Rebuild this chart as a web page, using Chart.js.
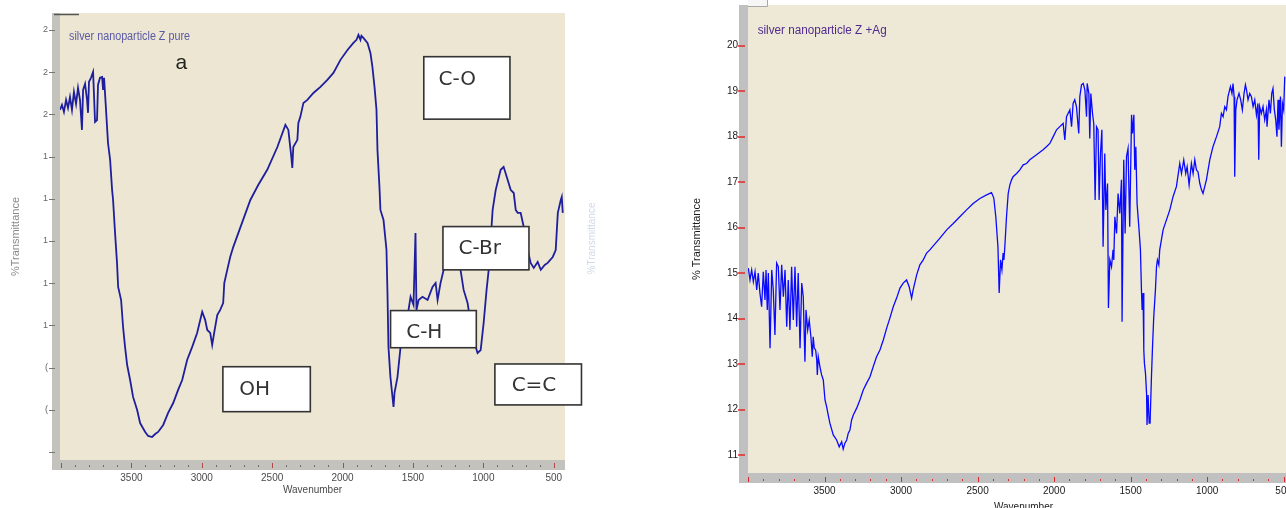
<!DOCTYPE html>
<html>
<head>
<meta charset="utf-8">
<script src="https://cdn.jsdelivr.net/npm/chart.js@4.4.1/dist/chart.umd.min.js"></script>
<style>
html,body{margin:0;padding:0;width:1286px;height:508px;overflow:hidden;background:#ffffff;position:relative}
#wa{position:absolute;left:0;top:0;width:600px;height:508px}
#wb{position:absolute;left:680px;top:0;width:640px;height:530px}
canvas{display:block}
</style>
</head>
<body>
<div id="wa"><canvas id="ca" width="600" height="508"></canvas></div>
<div id="wb"><canvas id="cb" width="640" height="530"></canvas></div>
<script>
// ---------- DATA ----------
// Left spectrum: silver nanoparticle Z pure
const leftWavenumber = [4007,3993,3979,3964,3950,3936,3922,3908,3893,3879,3865,3851,3843,3829,3815,3808,3801,3787,3772,3758,3744,3737,3723,3708,3701,3694,3680,3666,3651,3637,3630,3616,3602,3594,3573,3559,3545,3530,3509,3488,3459,3438,3402,3381,3353,3331,3310,3274,3239,3203,3168,3139,3104,3068,3033,2997,2976,2961,2940,2926,2912,2890,2869,2848,2840,2819,2798,2776,2727,2655,2599,2535,2463,2406,2385,2364,2357,2350,2321,2314,2300,2278,2250,2207,2157,2108,2065,2015,1965,1923,1901,1887,1873,1866,1852,1823,1802,1788,1773,1759,1752,1738,1731,1709,1695,1688,1681,1674,1660,1638,1631,1610,1588,1567,1539,1517,1496,1482,1475,1460,1432,1396,1361,1339,1325,1304,1282,1254,1218,1190,1162,1140,1112,1090,1069,1041,1019,998,977,962,934,912,877,856,827,806,784,770,756,735,713,685,664,642,614,592,564,543,507,486,471,450,443,436];
const leftTransmittance = [20.21,20.45,20.11,20.68,20.30,20.82,20.21,21.06,20.49,21.25,20.68,19.26,21.16,21.44,20.68,20.07,21.54,21.73,22.01,19.64,19.73,21.39,21.73,21.77,21.16,21.73,20.21,18.64,17.84,16.42,15.94,14.38,12.96,11.82,11.20,9.92,8.98,8.12,7.41,6.61,5.99,5.37,4.95,4.76,4.71,4.85,4.95,5.28,5.85,6.32,6.94,7.41,8.36,8.98,9.64,10.64,10.26,9.78,9.64,9.07,9.64,10.49,10.73,11.06,12.01,12.63,13.24,13.72,14.62,15.94,16.65,17.37,18.45,19.50,19.26,17.98,17.46,18.45,18.79,19.59,19.88,20.54,20.68,21.01,21.30,21.63,21.96,22.58,23.05,23.38,23.53,23.76,23.53,23.72,23.62,23.38,22.91,22.25,21.30,20.21,18.31,16.56,15.47,14.99,14.05,13.57,11.54,8.98,7.55,6.13,6.80,7.55,8.98,9.92,10.40,11.35,10.97,14.38,10.73,11.20,11.35,11.20,11.82,12.01,11.20,12.01,12.63,12.72,13.00,12.91,12.63,11.68,11.06,10.11,9.31,8.69,8.83,10.11,11.68,12.63,15.47,16.42,17.37,17.51,16.89,16.42,16.27,15.47,15.33,15.33,14.66,13.57,12.96,12.72,13.00,12.63,12.86,12.96,13.24,13.57,15.33,15.94,16.09,15.33];

// Right spectrum: silver nanoparticle Z +Ag
const rightWavenumber = [3998,3987,3976,3965,3954,3943,3933,3922,3911,3900,3889,3882,3874,3867,3856,3845,3835,3824,3813,3802,3791,3780,3769,3758,3747,3737,3726,3715,3704,3693,3682,3672,3660,3649,3639,3628,3621,3610,3600,3589,3580,3574,3567,3558,3551,3547,3541,3530,3519,3508,3497,3486,3476,3465,3443,3421,3404,3388,3378,3367,3355,3345,3334,3323,3312,3290,3269,3247,3225,3203,3182,3160,3138,3116,3094,3073,3051,3029,3007,2986,2964,2947,2931,2921,2898,2877,2855,2833,2812,2746,2702,2659,2616,2572,2529,2485,2441,2409,2394,2381,2367,2359,2350,2341,2333,2328,2322,2311,2300,2289,2278,2268,2245,2224,2202,2180,2159,2115,2072,2050,2028,2006,1984,1963,1941,1930,1919,1897,1886,1876,1865,1854,1839,1832,1821,1810,1799,1788,1784,1773,1767,1760,1749,1741,1732,1723,1713,1706,1697,1688,1680,1669,1662,1651,1645,1636,1625,1615,1610,1603,1592,1582,1571,1560,1556,1545,1536,1527,1517,1506,1494,1488,1479,1473,1466,1458,1445,1436,1429,1425,1419,1414,1410,1403,1396,1393,1386,1379,1373,1364,1357,1349,1338,1331,1325,1316,1310,1299,1288,1266,1244,1223,1201,1179,1168,1153,1140,1131,1118,1103,1092,1081,1070,1060,1048,1037,1027,1016,1005,983,962,939,918,907,896,885,874,864,848,838,831,824,820,813,805,792,781,770,759,750,743,733,722,711,700,689,678,668,663,657,646,635,624,613,609,596,587,578,570,561,552,544,537,531,521,515,508,500,493];
const rightTransmittance = [15.11,14.85,15.07,14.81,15.03,14.63,15.00,14.56,14.26,15.03,14.41,15.07,14.19,15.00,13.35,15.07,14.63,13.64,15.22,15.14,14.19,15.18,14.48,15.07,13.82,14.85,13.75,15.14,13.97,15.14,13.82,15.00,13.35,14.78,14.48,13.05,14.19,13.75,13.97,13.60,13.16,13.60,13.35,13.31,13.09,12.76,13.16,12.94,12.76,12.65,12.21,12.06,11.88,11.70,11.44,11.33,11.18,11.29,11.13,11.26,11.33,11.48,11.55,11.77,11.88,12.03,12.21,12.43,12.58,12.72,12.94,13.16,13.31,13.53,13.79,14.01,14.26,14.45,14.67,14.78,14.85,14.70,14.45,14.63,14.96,15.18,15.29,15.44,15.51,15.77,15.95,16.09,16.24,16.39,16.53,16.64,16.72,16.77,16.65,16.24,15.58,14.56,15.29,15.07,15.44,15.29,15.58,16.24,16.75,16.94,17.05,17.12,17.19,17.27,17.38,17.41,17.49,17.60,17.71,17.78,17.85,18.00,18.15,18.22,18.29,17.93,18.44,18.59,18.22,18.73,18.81,18.66,18.07,18.88,19.14,19.17,19.03,18.44,19.17,18.95,17.96,18.95,18.51,18.29,16.61,18.22,18.15,16.61,17.63,18.15,15.58,17.63,16.39,16.97,14.23,15.29,15.14,15.51,15.29,16.24,15.87,16.75,16.31,17.05,13.93,17.49,15.87,17.56,17.74,16.02,18.48,18.07,18.48,17.27,17.78,16.53,15.95,15.51,14.59,14.19,14.56,13.31,13.02,12.80,12.36,11.66,12.32,11.70,11.70,12.72,13.38,14.04,14.63,15.14,15.29,15.18,15.51,15.73,15.95,16.17,16.39,16.68,16.90,17.41,17.19,17.49,17.19,17.34,16.94,17.41,17.19,17.49,17.27,17.23,16.97,16.83,16.75,16.90,17.05,17.49,17.78,18.00,18.22,18.51,18.44,18.66,18.59,18.88,19.10,18.95,19.17,18.88,17.12,18.59,18.81,18.95,18.81,18.59,18.95,19.14,19.03,18.81,18.95,18.88,18.66,18.81,18.48,18.73,17.49,18.66,18.51,18.66,18.37,18.59,18.22,18.81,18.51,18.95,19.06,18.59,18.37,18.00,18.81,18.15,18.88,17.78,18.73,18.59,19.32];

// Tick labels
const leftXTickValues = [3500,3000,2500,2000,1500,1000,500];
const leftXTickLabels = ['3500','3000','2500','2000','1500','1000','500'];
const leftYTickValues = [4,6,8,10,12,14,16,18,20,22,24];
const leftYTickLabels = ['','(','(','1','1','1','1','1','2','2','2'];
const rightXTickValues = [3500,3000,2500,2000,1500,1000,500];
const rightXTickLabels = ['3500','3000','2500','2000','1500','1000','500'];
const rightYTickValues = [11,12,13,14,15,16,17,18,19,20];
const rightYTickLabels = ['11','12','13','14','15','16','17','18','19','20'];

// Text labels
const leftTitle = 'silver nanoparticle Z pure';
const rightTitle = 'silver nanoparticle Z +Ag';
const leftPanelTag = 'a';
const yAxisTitle = '%Transmittance';
const xAxisTitle = 'Wavenumber';
const leftNoteLabels = ['C-O','C-Br','C-H','OH','C=C'];

// ---------- helpers ----------
function zipPoints(xs, ys) { return xs.map((x, i) => ({x: x, y: ys[i]})); }
function lookup(values, labels) {
  return function (v) { const i = values.indexOf(v); return i >= 0 ? labels[i] : ''; };
}
Chart.defaults.font.family = '"Liberation Sans", Arial, sans-serif';

// annotation anchors in data units (wavenumber, %T)
const leftNotes = [
  {wn:[1423, 811], t:[22.73, 19.77], twn:1318, tt:21.63},
  {wn:[1287, 676], t:[14.68, 12.63], twn:1176, tt:13.62},
  {wn:[1659,1050], t:[10.70,  8.94], twn:1548, tt:9.64},
  {wn:[2850,2229], t:[ 8.04,  5.91], twn:2734, tt:6.94},
  {wn:[ 918, 303], t:[ 8.17,  6.23], twn:799,  tt:7.13}
];

function fitText(ctx, text, x, y, font, color, width) {
  ctx.save();
  ctx.font = font; ctx.fillStyle = color; ctx.textBaseline = 'middle'; ctx.textAlign = 'left';
  const w = ctx.measureText(text).width;
  ctx.translate(x, y); ctx.scale(width / w, 1);
  ctx.fillText(text, 0, 0);
  ctx.restore();
}

const leftDecor = {
  id: 'leftDecor',
  beforeDraw(chart) {
    const {ctx, chartArea: a, scales: {x, y}} = chart;
    ctx.save();
    ctx.fillStyle = '#ece6d2';
    ctx.fillRect(a.left, a.top, a.right - a.left, a.bottom - a.top);
    ctx.fillStyle = '#c4c2bc';
    ctx.fillRect(a.left - 8, a.top, 8, a.bottom - a.top + 10);
    ctx.fillRect(a.left - 8, a.bottom, a.right - a.left + 8, 10);
    ctx.lineWidth = 1;
    x.ticks.forEach(t => {
      const px = Math.round(x.getPixelForValue(t.value)) + 0.5;
      ctx.beginPath();
      if (t.value % 500 === 0) { ctx.strokeStyle = '#b04848'; ctx.moveTo(px, a.bottom + 3); ctx.lineTo(px, a.bottom + 8); }
      else { ctx.strokeStyle = '#6a6a6a'; ctx.moveTo(px, a.bottom + 5); ctx.lineTo(px, a.bottom + 7); }
      ctx.stroke();
    });
    ctx.strokeStyle = '#777';
    y.ticks.forEach(t => {
      const py = Math.round(y.getPixelForValue(t.value)) + 0.5;
      ctx.beginPath(); ctx.moveTo(a.left - 11, py); ctx.lineTo(a.left - 5, py); ctx.stroke();
    });
    ctx.strokeStyle = '#555'; ctx.lineWidth = 1.5;
    ctx.beginPath(); ctx.moveTo(a.left - 6, a.top + 1.5); ctx.lineTo(a.left + 19, a.top + 1.5); ctx.stroke();
    ctx.restore();
  },
  afterDraw(chart) {
    const {ctx, chartArea: a, scales: {x, y}} = chart;
    ctx.save();
    leftNotes.forEach((n, i) => {
      const x1 = x.getPixelForValue(n.wn[0]), x2 = x.getPixelForValue(n.wn[1]);
      const y1 = y.getPixelForValue(n.t[0]), y2 = y.getPixelForValue(n.t[1]);
      ctx.fillStyle = '#ffffff'; ctx.fillRect(x1, y1, x2 - x1, y2 - y1);
      ctx.strokeStyle = '#333333'; ctx.lineWidth = 1.6; ctx.strokeRect(x1, y1, x2 - x1, y2 - y1);
      ctx.fillStyle = '#333333'; ctx.font = '20px "DejaVu Sans", sans-serif';
      ctx.textBaseline = 'middle'; ctx.textAlign = 'left';
      ctx.fillText(leftNoteLabels[i], x.getPixelForValue(n.twn), y.getPixelForValue(n.tt));
    });
    fitText(ctx, leftTitle, x.getPixelForValue(3943), y.getPixelForValue(23.69), '12px "Liberation Sans", Arial', '#5a5aa6', 121);
    ctx.fillStyle = '#222'; ctx.font = '21px "Liberation Sans", Arial'; ctx.textAlign = 'center'; ctx.textBaseline = 'middle';
    ctx.fillText(leftPanelTag, x.getPixelForValue(3146), y.getPixelForValue(22.41));
    ctx.save();
    ctx.translate(592, (a.top + a.bottom) / 2 + 2); ctx.rotate(-Math.PI / 2);
    ctx.fillStyle = 'rgba(150,170,205,0.45)'; ctx.font = '10px "Liberation Sans", Arial';
    ctx.textAlign = 'center'; ctx.textBaseline = 'middle';
    ctx.fillText(yAxisTitle, 0, 0);
    ctx.restore();
    ctx.restore();
  }
};

const rightDecor = {
  id: 'rightDecor',
  beforeDraw(chart) {
    const {ctx, chartArea: a, scales: {x, y}} = chart;
    ctx.save();
    ctx.fillStyle = '#eee9d6';
    ctx.fillRect(a.left, a.top, a.right - a.left, a.bottom - a.top);
    ctx.fillStyle = '#c0c0c0';
    ctx.fillRect(a.left - 9, a.top, 9, a.bottom - a.top + 10);
    ctx.fillRect(a.left - 9, a.bottom, a.right - a.left + 9, 10);
    ctx.lineWidth = 1; ctx.strokeStyle = '#e02828';
    x.ticks.forEach(t => {
      const px = Math.round(x.getPixelForValue(t.value)) + 0.5;
      ctx.beginPath();
      if (t.value % 500 === 0) { ctx.moveTo(px, a.bottom + 4); ctx.lineTo(px, a.bottom + 9); }
      else { ctx.moveTo(px, a.bottom + 6); ctx.lineTo(px, a.bottom + 8); }
      ctx.stroke();
    });
    ctx.lineWidth = 1.5;
    y.ticks.forEach(t => {
      const py = Math.round(y.getPixelForValue(t.value));
      ctx.beginPath(); ctx.moveTo(a.left - 10, py); ctx.lineTo(a.left - 3, py); ctx.stroke();
    });
    ctx.fillStyle = '#f6f6f6'; ctx.fillRect(a.left, 0, 19, a.top + 1);
    ctx.strokeStyle = '#a8a8a8'; ctx.lineWidth = 1;
    ctx.beginPath(); ctx.moveTo(a.left, a.top + 1.5); ctx.lineTo(a.left + 19.5, a.top + 1.5); ctx.lineTo(a.left + 19.5, 0); ctx.stroke();
    ctx.restore();
  },
  afterDraw(chart) {
    const {ctx, scales: {x, y}} = chart;
    fitText(ctx, rightTitle, x.getPixelForValue(3937), y.getPixelForValue(20.33), '12px "Liberation Sans", Arial', '#502a8c', 129);
  }
};

function noPad(s) { s.paddingTop = 0; s.paddingBottom = 0; s.paddingLeft = 0; s.paddingRight = 0; }

// ---------- LEFT CHART ----------
new Chart(document.getElementById('ca'), {
  type: 'scatter',
  data: { datasets: [{
    data: zipPoints(leftWavenumber, leftTransmittance),
    showLine: true, borderColor: '#1f1f9e', borderWidth: 1.8, pointRadius: 0, tension: 0
  }]},
  options: {
    responsive: false, animation: false, devicePixelRatio: 1,
    layout: { padding: { left: 0, top: 13, right: 35, bottom: 0 } },
    plugins: { legend: { display: false }, tooltip: { enabled: false } },
    scales: {
      x: {
        type: 'linear', reverse: true, min: 420, max: 4007,
        grid: { display: false, drawTicks: false }, border: { display: false },
        ticks: { stepSize: 100, autoSkip: false, maxRotation: 0, minRotation: 0, includeBounds: false,
                 padding: 12, color: '#4a4a4a', font: { size: 10 },
                 callback: lookup(leftXTickValues, leftXTickLabels) },
        title: { display: true, text: xAxisTitle, color: '#4a4a4a', font: { size: 10 }, padding: { top: 0, bottom: 12 } },
        afterFit(s) { s.height = 48; noPad(s); }
      },
      y: {
        type: 'linear', min: 3.62, max: 24.8,
        grid: { display: false, drawTicks: false }, border: { display: false },
        ticks: { stepSize: 2, autoSkip: false, includeBounds: false, padding: 12, color: '#666', font: { size: 9 },
                 callback: lookup(leftYTickValues, leftYTickLabels) },
        title: { display: true, text: yAxisTitle, color: '#8a8a8a', font: { size: 11 }, padding: { top: 9, bottom: 0 } },
        afterFit(s) { s.width = 60; noPad(s); }
      }
    }
  },
  plugins: [leftDecor]
});

// ---------- RIGHT CHART ----------
new Chart(document.getElementById('cb'), {
  type: 'scatter',
  data: { datasets: [{
    data: zipPoints(rightWavenumber, rightTransmittance),
    showLine: true, borderColor: '#0a0aff', borderWidth: 1.3, pointRadius: 0, tension: 0
  }]},
  options: {
    responsive: false, animation: false, devicePixelRatio: 1,
    layout: { padding: { left: 0, top: 5, right: 21, bottom: 0 } },
    plugins: { legend: { display: false }, tooltip: { enabled: false } },
    scales: {
      x: {
        type: 'linear', reverse: true, min: 400, max: 4000,
        grid: { display: false, drawTicks: false }, border: { display: false },
        ticks: { stepSize: 100, autoSkip: false, maxRotation: 0, minRotation: 0, includeBounds: false,
                 padding: 12, color: '#1a1a1a', font: { size: 10 },
                 callback: lookup(rightXTickValues, rightXTickLabels) },
        title: { display: true, text: xAxisTitle, color: '#1a1a1a', font: { size: 10 }, padding: { top: 0, bottom: 17 } },
        afterFit(s) { s.height = 57; noPad(s); }
      },
      y: {
        type: 'linear', min: 10.604, max: 20.895,
        grid: { display: false, drawTicks: false }, border: { display: false },
        ticks: { stepSize: 1, autoSkip: false, includeBounds: false, padding: 10, color: '#1a1a1a', font: { size: 10 },
                 callback: lookup(rightYTickValues, rightYTickLabels) },
        title: { display: true, text: '% Transmittance', color: '#1a1a1a', font: { size: 11 }, padding: { top: 10, bottom: 0 } },
        afterFit(s) { s.width = 68; noPad(s); }
      }
    }
  },
  plugins: [rightDecor]
});
</script>
</body>
</html>
